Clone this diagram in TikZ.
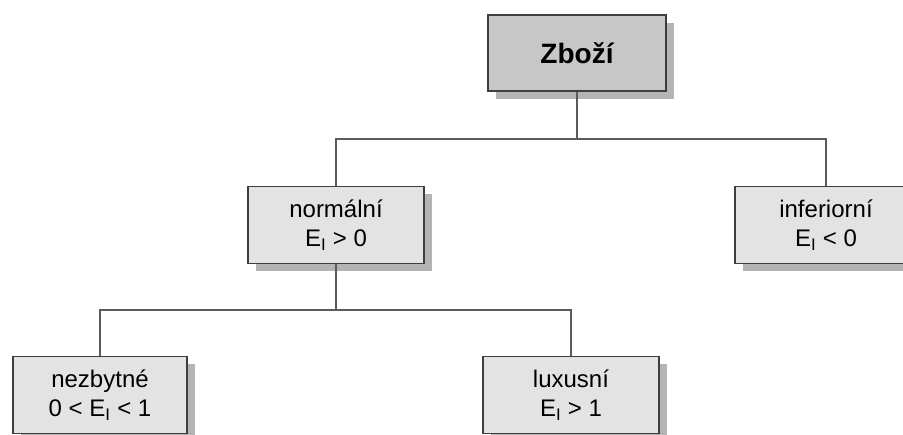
\documentclass[tikz,border=0pt]{standalone}
\usepackage{fontspec}
\setmainfont{Liberation Sans}
\usepackage{xcolor}
\usetikzlibrary{shadows, positioning}
\definecolor{edge}{HTML}{3E3E3E}
\definecolor{shade}{HTML}{B4B4B4}

\begin{document}
\begin{tikzpicture}[x=1pt, y=-1pt,
  hub/.style={draw=edge, line width=1.3pt, fill=black!22, inner sep=0pt,
    minimum width=178pt, minimum height=76pt, font=\fontsize{28}{32}\selectfont\bfseries,
    drop shadow={shadow xshift=8pt, shadow yshift=-8pt, fill=shade, opacity=1}},
  sec/.style={draw=edge, line width=1.3pt, fill=black!11, inner sep=0pt, align=center,
    minimum width=176pt, minimum height=77pt, font=\fontsize{24}{29}\selectfont,
    drop shadow={shadow xshift=8pt, shadow yshift=-8pt, fill=shade, opacity=1}},
  sp/.style={draw=edge!85, line width=1.2pt}]
  \useasboundingbox (0,0) rectangle (903,435);
  \clip (0,0) rectangle (903,435);
  \node[hub] (c) at (577,53) {Zboží};
  \node[sec] (n) at (336,225) {normální\\E\textsubscript{I} > 0};
  \node[sec, minimum width=182pt] (i) at (826,225) {inferiorní\\E\textsubscript{I} < 0};
  \node[sec, minimum width=174pt] (z) at (100,395) {nezbytné\\0 < E\textsubscript{I} < 1};
  \node[sec] (l) at (571,395) {luxusní\\E\textsubscript{I} > 1};
  \coordinate (b1) at (0,139);
  \coordinate (b2) at (0,310);
  \draw[sp] (c.south) -- (c.south |- b1);
  \draw[sp] (n.north) |- (b1 -| i.north) -- (i.north);
  \draw[sp] (n.south) -- (n.south |- b2);
  \draw[sp] (z.north) |- (b2 -| l.north) -- (l.north);
\end{tikzpicture}
\end{document}
